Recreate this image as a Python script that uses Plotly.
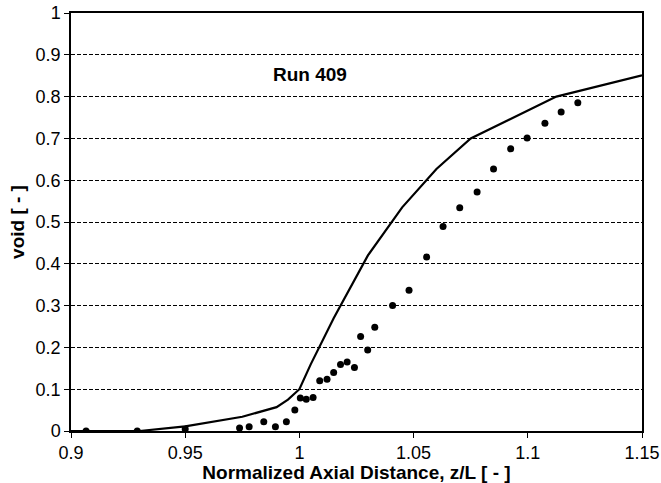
import plotly.graph_objects as go

# Measured void fraction, Run 409
z_meas = [0.9066, 0.929, 0.950, 0.9738, 0.978, 0.9844, 0.9895, 0.9943, 0.998,
          1.0004, 1.003, 1.006, 1.0089, 1.0121, 1.015, 1.018, 1.0209, 1.0241,
          1.0268, 1.0299, 1.033, 1.0408, 1.048, 1.0557, 1.0629, 1.0702, 1.0778,
          1.085, 1.0925, 1.0997, 1.1075, 1.1146, 1.1219]
void_meas = [0.0, 0.0, 0.005, 0.007, 0.01, 0.022, 0.01, 0.022, 0.05,
             0.079, 0.076, 0.08, 0.12, 0.124, 0.14, 0.159, 0.165, 0.152,
             0.226, 0.194, 0.248, 0.30, 0.337, 0.416, 0.489, 0.534, 0.572,
             0.627, 0.675, 0.701, 0.736, 0.763, 0.785]

# Calculated void fraction
z_calc = [0.90, 0.93, 0.95, 0.975, 0.99, 0.995, 1.0, 1.005, 1.015, 1.03,
          1.045, 1.06, 1.075, 1.1125, 1.15]
void_calc = [0.0, 0.0, 0.011, 0.034, 0.057, 0.075, 0.10, 0.16, 0.27, 0.42,
             0.535, 0.627, 0.70, 0.80, 0.851]

x_ticks = [0.9, 0.95, 1.0, 1.05, 1.1, 1.15]
x_tick_text = ["0.9", "0.95", "1", "1.05", "1.1", "1.15"]
y_ticks = [0, 0.1, 0.2, 0.3, 0.4, 0.5, 0.6, 0.7, 0.8, 0.9, 1.0]
y_tick_text = ["0", "0.1", "0.2", "0.3", "0.4", "0.5", "0.6", "0.7", "0.8", "0.9", "1"]

font_family = "Liberation Sans, Arial, Helvetica, sans-serif"

fig = go.Figure()
fig.add_trace(go.Scatter(
    x=z_calc, y=void_calc, mode="lines",
    line=dict(color="black", width=2.2),
    showlegend=False, hoverinfo="skip",
))
fig.add_trace(go.Scatter(
    x=z_meas, y=void_meas, mode="markers",
    marker=dict(color="black", size=7, symbol="circle"),
    showlegend=False,
))

fig.add_annotation(
    x=1.0047, y=0.853, text="<b>Run 409</b>", showarrow=False,
    font=dict(size=19, color="black", family=font_family),
    xanchor="center", yanchor="middle",
)

axis_common = dict(
    showline=True, linecolor="black", linewidth=1.5, mirror=True,
    ticks="outside", ticklen=5, tickcolor="black", tickwidth=1,
    zeroline=False, automargin=False,
    tickfont=dict(size=18, color="black", family=font_family),
)

fig.update_xaxes(
    range=[0.9, 1.15], tickvals=x_ticks, ticktext=x_tick_text,
    showgrid=False,
    title=dict(text="<b>Normalized Axial Distance, z/L [ - ]</b>",
               font=dict(size=19, color="black", family=font_family),
               standoff=2),
    **axis_common,
)
fig.update_yaxes(
    range=[0, 1.0], tickvals=y_ticks, ticktext=y_tick_text,
    showgrid=True, gridcolor="black", gridwidth=1, griddash="4px,2px",
    title=dict(text="<b>void [ - ]</b>",
               font=dict(size=19, color="black", family=font_family),
               standoff=6),
    **axis_common,
)

fig.update_layout(
    width=661, height=483,
    margin=dict(l=71, r=19, t=13, b=52),
    paper_bgcolor="white", plot_bgcolor="white",
    font=dict(family=font_family, color="black"),
)

fig.write_html("out.html")
